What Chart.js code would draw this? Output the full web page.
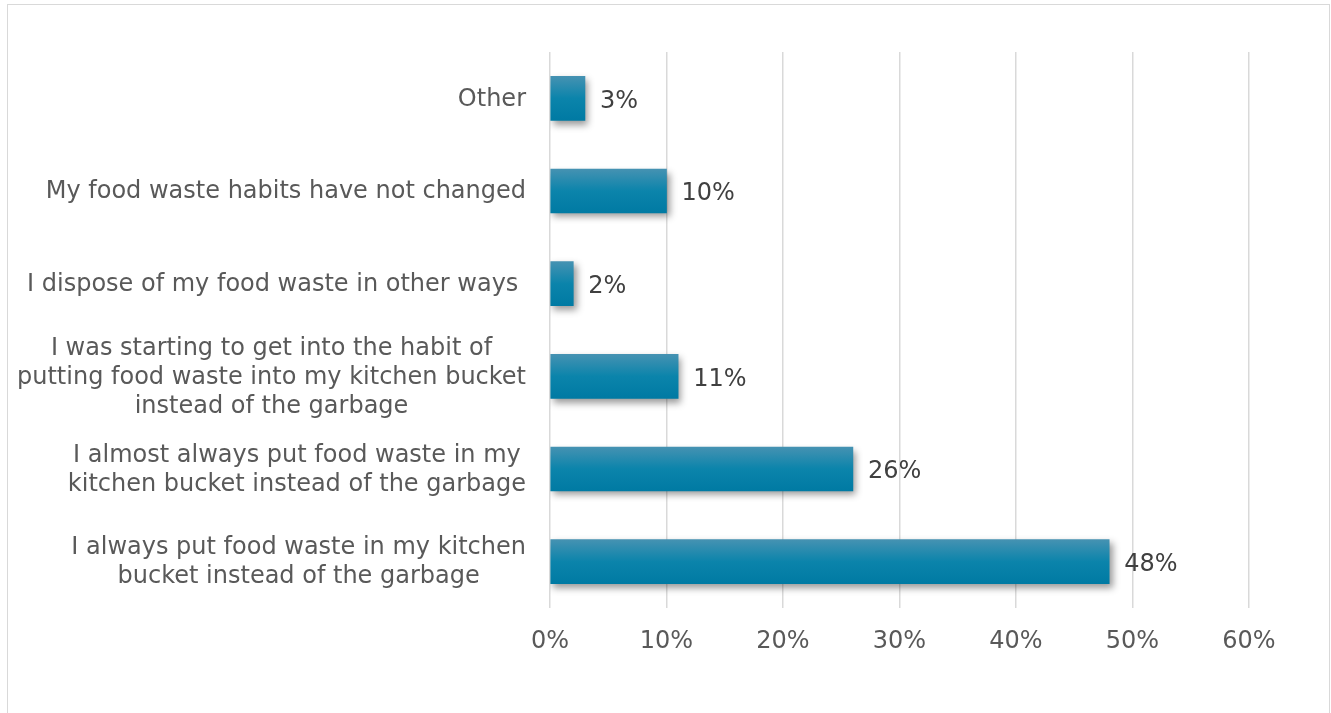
<!DOCTYPE html>
<html>
<head>
<meta charset="utf-8">
<script src="https://cdn.jsdelivr.net/npm/chart.js@4/dist/chart.umd.min.js"></script>
<style>
  html, body { margin: 0; padding: 0; background: #fff; }
  #wrap { position: relative; width: 1331px; height: 713px; overflow: hidden; }
  #frame { position: absolute; left: 7px; top: 4px; width: 1321px; height: 720px; border: 1px solid #d9d9d9; }
  #chart { position: absolute; left: 0; top: 0; }
</style>
</head>
<body>
<div id="wrap">
  <div id="frame"></div>
  <canvas id="chart" width="1331" height="713"></canvas>
</div>
<script>
// categories, top to bottom
const categories = [
  ['Other'],
  ['My food waste habits have not changed'],
  ['I dispose of my food waste in other ways '],
  ['I was starting to get into the habit of', 'putting food waste into my kitchen bucket', 'instead of the garbage'],
  ['I almost always put food waste in my', 'kitchen bucket instead of the garbage'],
  ['I always put food waste in my kitchen', 'bucket instead of the garbage']
];
const shares = [3, 10, 2, 11, 26, 48];
const xTicks = [0, 10, 20, 30, 40, 50, 60];

const FONT = '"DejaVu Sans", Verdana, sans-serif';
const FSIZE = 24;
const BAR_H = 44;

// vertical gradient per bar, from the y scale position
function barFill(ctx) {
  const chart = ctx.chart;
  const y = chart.scales.y;
  if (!y || ctx.dataIndex === undefined) return '#0a83aa';
  const yc = y.getPixelForValue(ctx.dataIndex);
  if (!isFinite(yc)) return '#0a83aa';
  const g = chart.ctx.createLinearGradient(0, yc - BAR_H / 2, 0, yc + BAR_H / 2);
  g.addColorStop(0, '#4592b2');
  g.addColorStop(0.5, '#0b84ab');
  g.addColorStop(1, '#007aa3');
  return g;
}

const barShadow = {
  id: 'barShadow',
  beforeDatasetsDraw(chart) {
    const c = chart.ctx;
    c.save();
    c.shadowColor = 'rgba(0,0,0,0.4)';
    c.shadowBlur = 7;
    c.shadowOffsetX = 3;
    c.shadowOffsetY = 4;
  },
  afterDatasetsDraw(chart) {
    chart.ctx.restore();
  }
};

// y labels: block right-aligned, lines centred within block
const yLabels = {
  id: 'yLabels',
  afterDraw(chart) {
    const c = chart.ctx;
    const y = chart.scales.y;
    c.save();
    c.font = FSIZE + 'px ' + FONT;
    c.fillStyle = '#595959';
    c.textBaseline = 'middle';
    c.textAlign = 'center';
    const right = 526;
    const lh = 29;
    categories.forEach((lines, i) => {
      const yc = y.getPixelForValue(i);
      const w = Math.max(...lines.map(l => c.measureText(l).width));
      const cx = right - w / 2;
      lines.forEach((l, k) => {
        c.fillText(l, cx, yc + (k - (lines.length - 1) / 2) * lh + 1);
      });
    });
    c.restore();
  }
};

const valueLabels = {
  id: 'valueLabels',
  afterDatasetsDraw(chart) {
    const c = chart.ctx;
    const meta = chart.getDatasetMeta(0);
    c.save();
    c.font = FSIZE + 'px ' + FONT;
    c.fillStyle = '#404040';
    c.textBaseline = 'middle';
    c.textAlign = 'left';
    meta.data.forEach((bar, i) => {
      c.fillText(shares[i] + '%', bar.x + 15, bar.y + 3);
    });
    c.restore();
  }
};

new Chart(document.getElementById('chart'), {
  type: 'bar',
  data: {
    labels: categories,
    datasets: [{
      data: shares,
      backgroundColor: barFill,
      borderWidth: 0,
      barThickness: BAR_H
    }]
  },
  options: {
    indexAxis: 'y',
    responsive: false,
    animation: false,
    layout: { padding: { top: 52, right: 82, left: 0, bottom: 0 } },
    plugins: { legend: { display: false }, tooltip: { enabled: false } },
    scales: {
      x: {
        min: 0,
        max: 60,
        afterBuildTicks(scale) { scale.ticks = xTicks.map(v => ({ value: v })); },
        afterFit(scale) { scale.height = 105; },
        grid: { color: '#d9d9d9', lineWidth: 1.5, drawTicks: false },
        border: { display: false },
        ticks: {
          padding: 19,
          color: '#595959',
          font: { family: FONT, size: FSIZE },
          callback: v => v + '%'
        }
      },
      y: {
        afterFit(scale) { scale.width = 550; },
        grid: { display: false },
        border: { display: false },
        ticks: { display: false }
      }
    }
  },
  plugins: [barShadow, yLabels, valueLabels]
});
</script>
</body>
</html>
